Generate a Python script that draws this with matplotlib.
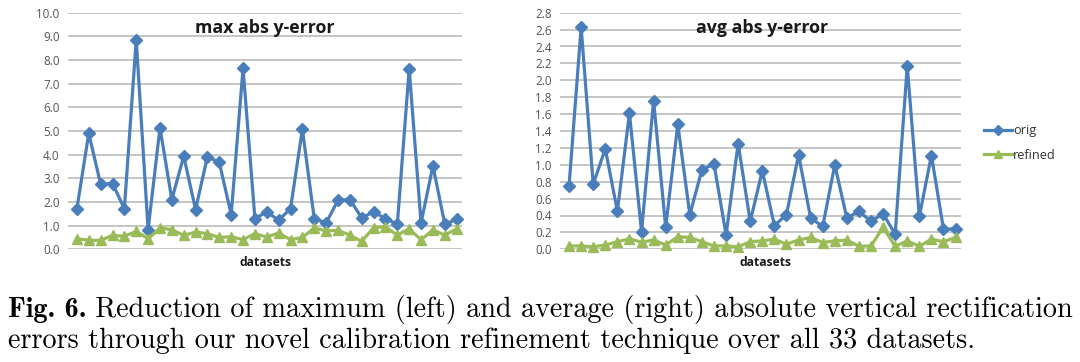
import matplotlib
matplotlib.use("Agg")
import matplotlib.pyplot as plt
import numpy as np

# ---- data ----
datasets = list(range(1, 34))
max_orig = [1.72, 4.90, 2.75, 2.78, 1.72, 8.86, 0.83, 5.14, 2.10, 3.94, 1.68,
            3.92, 3.67, 1.47, 7.65, 1.30, 1.58, 1.23, 1.72, 5.07, 1.30, 1.11,
            2.08, 2.10, 1.33, 1.58, 1.30, 1.06, 7.63, 1.11, 3.53, 1.06, 1.27]
max_refined = [0.45, 0.38, 0.38, 0.59, 0.55, 0.76, 0.45, 0.90, 0.83, 0.59, 0.73,
               0.66, 0.50, 0.53, 0.41, 0.66, 0.52, 0.69, 0.41, 0.50, 0.90, 0.78,
               0.80, 0.60, 0.33, 0.92, 0.95, 0.60, 0.87, 0.40, 0.82, 0.60, 0.87]
avg_orig = [0.75, 2.63, 0.77, 1.19, 0.45, 1.61, 0.21, 1.76, 0.26, 1.48, 0.41,
            0.94, 1.01, 0.17, 1.25, 0.33, 0.93, 0.28, 0.41, 1.12, 0.37, 0.27,
            1.00, 0.37, 0.45, 0.33, 0.42, 0.18, 2.17, 0.39, 1.11, 0.24, 0.24]
avg_refined = [0.04, 0.04, 0.03, 0.05, 0.09, 0.125, 0.085, 0.11, 0.05, 0.15, 0.14,
               0.09, 0.04, 0.04, 0.03, 0.09, 0.10, 0.12, 0.06, 0.11, 0.14, 0.08,
               0.10, 0.11, 0.035, 0.04, 0.26, 0.035, 0.10, 0.035, 0.12, 0.09, 0.14]
series_names = ["orig", "refined"]
titles = ["max abs y-error", "avg abs y-error"]
xlabel = "datasets"
left_ticks = np.arange(0, 10.01, 1.0)
right_ticks = np.arange(0, 2.81, 0.2)
caption_bold = "Fig. 6."
caption_1 = " Reduction of maximum (left) and average (right) absolute vertical rectification"
caption_2 = "errors through our novel calibration refinement technique over all 33 datasets."

BLUE = "#4a7ebb"
GREEN = "#9bbb59"
GRID = "#c0c0c0"
FONT = "Open Sans"

W, H = 1080, 362
fig = plt.figure(figsize=(W / 100, H / 100), dpi=100)


def px_axes(x0, x1, y0, y1):
    return fig.add_axes([x0 / W, 1 - y1 / H, (x1 - x0) / W, (y1 - y0) / H])


def style(ax, ticks, fmt):
    ax.set_ylim(ticks[0], ticks[-1])
    ax.set_yticks(ticks)
    ax.set_yticklabels([fmt.format(t) for t in ticks], family=FONT, fontsize=8.4, color="#555555")
    ax.set_xticks([])
    ax.set_xlim(-0.75, 32.45)
    for s in ax.spines.values():
        s.set_visible(False)
    ax.grid(axis="y", color=GRID, linewidth=1.3)
    ax.set_axisbelow(True)
    ax.tick_params(axis="y", length=0, pad=6)


x = np.arange(len(datasets))

axL = px_axes(68, 462, 12.7, 249.3)
style(axL, left_ticks, "{:.1f}")
axL.plot(x, max_orig, color=BLUE, lw=2.3, marker="D", ms=6.3, label=series_names[0], clip_on=False)
axL.plot(x, max_refined, color=GREEN, lw=2.3, marker="^", ms=7.5, label=series_names[1], clip_on=False)
axL.text(0.5, 0.975, titles[0], transform=axL.transAxes, ha="center", va="top",
         family=FONT, fontweight="bold", fontsize=12.8, color="#1a1a1a")
fig.text(266 / W, 1 - 262 / H, xlabel, ha="center", va="center", family=FONT,
         fontweight="bold", fontsize=8.7, color="#1a1a1a")

axR = px_axes(560, 961, 12.7, 249.3)
style(axR, right_ticks, "{:.1f}")
lo, = axR.plot(x, avg_orig, color=BLUE, lw=2.3, marker="D", ms=6.3, label=series_names[0], clip_on=False)
lr, = axR.plot(x, avg_refined, color=GREEN, lw=2.3, marker="^", ms=7.5, label=series_names[1], clip_on=False)
axR.text(0.505, 0.975, titles[1], transform=axR.transAxes, ha="center", va="top",
         family=FONT, fontweight="bold", fontsize=12.8, color="#1a1a1a")
fig.text(765 / W, 1 - 262 / H, xlabel, ha="center", va="center", family=FONT,
         fontweight="bold", fontsize=8.7, color="#1a1a1a")

leg = fig.legend(handles=[lo, lr], loc="center left", bbox_to_anchor=(972 / W, 1 - 143 / H),
                 frameon=False, prop={"family": FONT, "size": 9.2}, handlelength=2.2,
                 handletextpad=0.1, labelspacing=0.9, markerscale=0.8)
for t in leg.get_texts():
    t.set_color("#333333")

# caption
CAP = 20.3
t1 = fig.text(8 / W, 1 - 310 / H, caption_bold, family="cmb10", fontsize=CAP, va="center", ha="left")
fig.canvas.draw()
bb = t1.get_window_extent()
fig.text(bb.x1 / W, 1 - 310 / H, caption_1, family="cmr10", fontsize=CAP, va="center", ha="left")
fig.text(8 / W, 1 - 341 / H, caption_2, family="cmr10", fontsize=CAP, va="center", ha="left")

fig.savefig("out.png", dpi=100, facecolor="white")
